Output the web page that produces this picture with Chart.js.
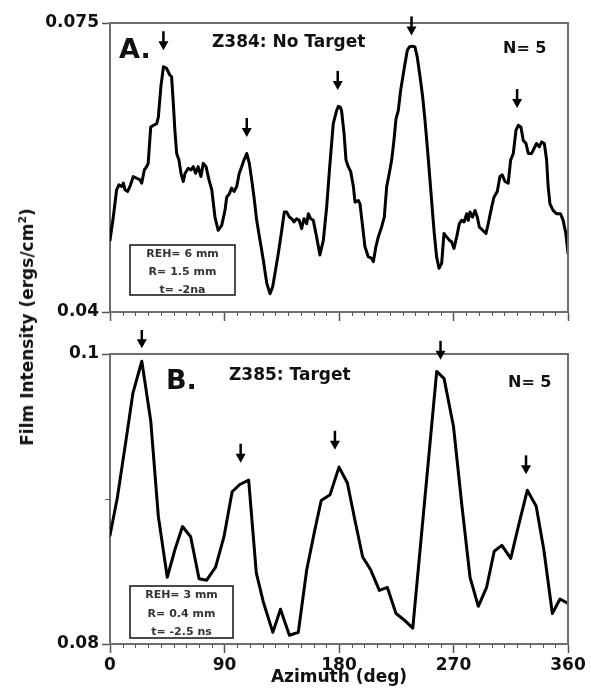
<!DOCTYPE html>
<html><head><meta charset="utf-8">
<script src="https://cdn.jsdelivr.net/npm/chart.js@4.4.1/dist/chart.umd.min.js"></script>
<style>
html,body{margin:0;padding:0;background:#fff;}
#wrap{position:relative;width:591px;height:696px;overflow:hidden;background:#fff;}
#cA{position:absolute;left:0;top:0;}
#cB{position:absolute;left:0;top:330px;}
#ytitle{position:absolute;left:27px;top:327px;transform:translate(-50%,-50%) rotate(-90deg);font:bold 17px 'DejaVu Sans';color:#111;white-space:nowrap;}
#ytitle sup{font-size:11px;line-height:0;}
</style></head><body>
<div id="wrap">
<canvas id="cA" width="591" height="330"></canvas>
<canvas id="cB" width="591" height="366"></canvas>
<div id="ytitle">Film Intensity (ergs/cm<sup>2</sup>)</div>
</div>
<script>
// ---------- Panel A: Z384 (No Target) ----------
const anglesA = [0,2.6,5.2,7,9.2,10.5,11.8,13.9,15.7,18.3,21,23.6,24.9,27,28.8,30,32,34,36.7,38,40,42,44.5,47,48.4,49.8,51,52.4,54.2,55.8,57.6,59,61.5,63.7,65.5,67.3,69.3,71.5,73.3,75.5,77.8,80,82.5,85,87.8,90.4,91.7,93.8,95.6,97.5,99.6,101.6,103.5,105.3,107.5,109.5,111.4,113.2,115.3,117.9,120.5,123.2,125.8,127.9,129.7,132.3,135,137,138.9,141,142.8,144.6,146.7,148.8,150.6,152.5,154.6,155.9,157.7,159.8,162.4,165,167.7,170.3,172.9,175.5,178.1,179.5,181,182,184,185.5,187.3,189.2,191.3,192.6,195.2,196.5,198.6,200.4,203,205.7,207,209,210.9,213.5,215.6,217.5,220,221.4,223.2,224.8,226.6,228.5,230,231.9,233.7,235.3,237.5,239.7,241.5,243.7,245.8,247.6,249.4,251.5,253.6,254.9,256.7,258.6,260.7,262.5,264.6,266.7,268.5,270.4,272.5,274.6,276.4,278.3,280.4,281.6,283,285,286.9,288.7,290.3,292.9,295.5,297.3,300,301.8,304.4,306.5,308.3,310.5,313,314.9,317,319.1,320.9,323,324.8,327,328.8,331.4,333.3,335.3,337.4,339.3,341.4,343.2,344.4,345.8,348.3,351,354.1,356.2,358.3,360];
const valuesA = [0.0487,0.0515,0.0548,0.0554,0.0552,0.0556,0.0548,0.0546,0.0552,0.0564,0.0562,0.0560,0.0556,0.0572,0.0576,0.0580,0.0624,0.0626,0.0628,0.0636,0.0673,0.0697,0.0695,0.0687,0.0685,0.0652,0.0620,0.0592,0.0584,0.0568,0.0558,0.0568,0.0574,0.0572,0.0576,0.0568,0.0576,0.0564,0.0580,0.0576,0.0560,0.0548,0.0515,0.0499,0.0505,0.0523,0.0539,0.0543,0.0550,0.0546,0.0552,0.0568,0.0576,0.0584,0.0592,0.0580,0.0560,0.0539,0.0511,0.0487,0.0463,0.0435,0.0422,0.0431,0.0447,0.0471,0.0499,0.0521,0.0521,0.0515,0.0513,0.0509,0.0513,0.0511,0.0501,0.0513,0.0507,0.0519,0.0513,0.0511,0.0491,0.0469,0.0487,0.0527,0.0580,0.0628,0.0644,0.0649,0.0648,0.0644,0.0616,0.0584,0.0576,0.0570,0.0552,0.0533,0.0535,0.0531,0.0503,0.0479,0.0467,0.0465,0.0461,0.0479,0.0491,0.0503,0.0515,0.0552,0.0572,0.0584,0.0608,0.0634,0.0644,0.0669,0.0683,0.0701,0.0717,0.0721,0.0722,0.0721,0.0709,0.0685,0.0660,0.0632,0.0600,0.0560,0.0519,0.0495,0.0467,0.0453,0.0459,0.0495,0.0491,0.0487,0.0485,0.0477,0.0491,0.0507,0.0511,0.0509,0.0519,0.0511,0.0521,0.0515,0.0523,0.0515,0.0503,0.0499,0.0495,0.0507,0.0527,0.0539,0.0546,0.0564,0.0566,0.0558,0.0556,0.0584,0.0592,0.0620,0.0626,0.0624,0.0608,0.0604,0.0592,0.0592,0.0598,0.0604,0.0600,0.0606,0.0604,0.0584,0.0552,0.0531,0.0523,0.0519,0.0519,0.0511,0.0495,0.0471];
const yTicksA = [0.04, 0.075];
const arrowAnglesA = [42, 107.5, 179, 237, 320];
const arrowTipsA = [0.0717, 0.0612, 0.0669, 0.0735, 0.0647];
const infoA = ["REH= 6 mm", "R= 1.5 mm", "t= -2na"];

// ---------- Panel B: Z385 (Target) ----------
const anglesB = [0,5.8,13,18,25,32,38,45,51,57,63.4,70,76,83,89.6,96,102,109,115,120.5,128,134,141,148,154.6,160.6,166,173,180,186.6,192.6,198.6,205,211.7,218,224.8,232,238,256.8,262.6,270,276.4,283,289.5,296,302,308,315,321.5,328,335,341,347.7,353.7,360];
const valuesB = [0.0875,0.0901,0.0943,0.0973,0.0995,0.0954,0.0888,0.0846,0.0865,0.0881,0.0874,0.0845,0.0844,0.0853,0.0874,0.0905,0.0910,0.0913,0.0849,0.0829,0.0808,0.0824,0.0806,0.0808,0.0851,0.0877,0.0899,0.0903,0.0922,0.0911,0.0885,0.0860,0.0851,0.0837,0.0839,0.0821,0.0816,0.0811,0.0988,0.0983,0.0950,0.0897,0.0846,0.0826,0.0839,0.0864,0.0868,0.0859,0.0883,0.0906,0.0895,0.0865,0.0821,0.0831,0.0828];
const yTicksB = [0.08, 0.1];
const yMinorB = [0.09];
const arrowAnglesB = [25, 102.7, 176.8, 259.8, 327];
const arrowTipsB = [0.1004, 0.0925, 0.0934, 0.0996, 0.0917];
const infoB = ["REH= 3 mm", "R= 0.4 mm", "t= -2.5 ns"];

const xTicks = [0, 90, 180, 270, 360];

Chart.defaults.font.family = "'DejaVu Sans'";
Chart.defaults.color = '#111';

const AXIS = '#6e6e6e';

const annot = {
  id: 'annot',
  afterDraw(chart, args, o) {
    const {ctx, chartArea: ca, scales: {x, y}} = chart;
    ctx.save();
    // top & right frame
    ctx.strokeStyle = AXIS; ctx.lineWidth = 2;
    ctx.beginPath(); ctx.moveTo(ca.left, ca.top); ctx.lineTo(ca.right, ca.top); ctx.lineTo(ca.right, ca.bottom); ctx.stroke();
    // minor x ticks
    ctx.strokeStyle = '#555'; ctx.lineWidth = 1;
    for (let v = 10; v < 360; v += 10) {
      if (v % 90 === 0) continue;
      const px = Math.round(x.getPixelForValue(v)) + 0.5;
      ctx.beginPath(); ctx.moveTo(px, ca.bottom); ctx.lineTo(px, ca.bottom + 4); ctx.stroke();
    }
    for (const v of o.minorY) {
      const py = Math.round(y.getPixelForValue(v)) + 0.5;
      ctx.beginPath(); ctx.moveTo(ca.left, py); ctx.lineTo(ca.left - 5, py); ctx.stroke();
    }
    // arrows
    ctx.fillStyle = '#000'; ctx.strokeStyle = '#000';
    o.arrowX.forEach((a, i) => {
      const px = x.getPixelForValue(a), tip = y.getPixelForValue(o.arrowY[i]);
      ctx.lineWidth = 2.5;
      ctx.beginPath(); ctx.moveTo(px, tip - 19); ctx.lineTo(px, tip - 7); ctx.stroke();
      ctx.beginPath(); ctx.moveTo(px - 5, tip - 9); ctx.lineTo(px + 5, tip - 9); ctx.lineTo(px, tip); ctx.closePath(); ctx.fill();
    });
    // info box
    const b = o.box;
    ctx.fillStyle = '#fff';
    ctx.fillRect(b.x, b.y - o.offY, b.w, b.h);
    ctx.strokeStyle = '#111'; ctx.lineWidth = 1.5;
    ctx.strokeRect(b.x, b.y - o.offY, b.w, b.h);
    ctx.fillStyle = '#333'; ctx.font = "bold 11px 'DejaVu Sans'"; ctx.textAlign = 'center'; ctx.textBaseline = 'alphabetic';
    b.lines.forEach((t, i) => ctx.fillText(t, b.x + b.w / 2, b.base[i] - o.offY));
    // labels
    for (const t of o.texts) {
      ctx.font = t.font; ctx.fillStyle = '#111'; ctx.textAlign = 'left';
      ctx.fillText(t.text, t.x, t.y - o.offY);
    }
    ctx.restore();
  }
};

function makeChart(id, angles, values, yTicks, opts) {
  return new Chart(document.getElementById(id), {
    type: 'line',
    data: { datasets: [{
      data: angles.map((a, i) => ({x: a, y: values[i]})),
      borderColor: '#000', borderWidth: 3, pointRadius: 0, tension: 0, fill: false,
      borderJoinStyle: 'round', borderCapStyle: 'round'
    }]},
    options: {
      responsive: false, animation: false, devicePixelRatio: 1,
      layout: { padding: { top: opts.padTop, right: 23, left: 0, bottom: 0 } },
      plugins: { legend: {display: false}, tooltip: {enabled: false}, annot: opts.annot },
      scales: {
        x: {
          type: 'linear', min: 0, max: 360,
          afterBuildTicks: s => { s.ticks = xTicks.map(v => ({value: v})); },
          afterFit: s => { s.height = opts.xHeight; },
          border: { display: true, color: AXIS, width: 2 },
          grid: { display: true, drawOnChartArea: false, drawTicks: true, tickLength: 9, tickColor: '#555', tickWidth: 1.5 },
          ticks: { display: opts.showX, autoSkip: false, maxRotation: 0, padding: 2,
                   font: { size: 17, weight: 'bold' }, color: '#111' },
          title: { display: opts.showX, text: 'Azimuth (deg)', font: { size: 17, weight: 'bold' }, color: '#111',
                   padding: { top: 0, bottom: 8 } }
        },
        y: {
          type: 'linear', min: yTicks[0], max: yTicks[1],
          afterBuildTicks: s => { s.ticks = yTicks.map(v => ({value: v})); },
          afterFit: s => { s.width = 110; },
          border: { display: true, color: AXIS, width: 2 },
          grid: { display: true, drawOnChartArea: false, drawTicks: true, tickLength: 8, tickColor: '#555', tickWidth: 1.5 },
          ticks: { padding: 3, font: { size: 17, weight: 'bold' }, color: '#111',
                   callback: v => String(v) }
        }
      }
    },
    plugins: [annot]
  });
}

makeChart('cA', anglesA, valuesA, yTicksA, {
  padTop: 23, xHeight: 18, showX: false,
  annot: {
    offY: 0, minorY: [], arrowX: arrowAnglesA, arrowY: arrowTipsA,
    box: { x: 130, y: 245, w: 105, h: 50, lines: infoA, base: [257, 275, 293] },
    texts: [
      { text: 'A.', x: 119, y: 58, font: "bold 27px 'DejaVu Sans'" },
      { text: 'Z384: No Target', x: 212, y: 47, font: "bold 17px 'DejaVu Sans'" },
      { text: 'N= 5', x: 503, y: 53, font: "bold 16px 'DejaVu Sans'" }
    ]
  }
});

makeChart('cB', anglesB, valuesB, yTicksB, {
  padTop: 24, xHeight: 52, showX: true,
  annot: {
    offY: 330, minorY: yMinorB, arrowX: arrowAnglesB, arrowY: arrowTipsB,
    box: { x: 130, y: 586, w: 103, h: 52, lines: infoB, base: [598, 617, 635] },
    texts: [
      { text: 'B.', x: 166, y: 389, font: "bold 27px 'DejaVu Sans'" },
      { text: 'Z385: Target', x: 229, y: 380, font: "bold 17px 'DejaVu Sans'" },
      { text: 'N= 5', x: 508, y: 387, font: "bold 16px 'DejaVu Sans'" }
    ]
  }
});
</script>
</body></html>
